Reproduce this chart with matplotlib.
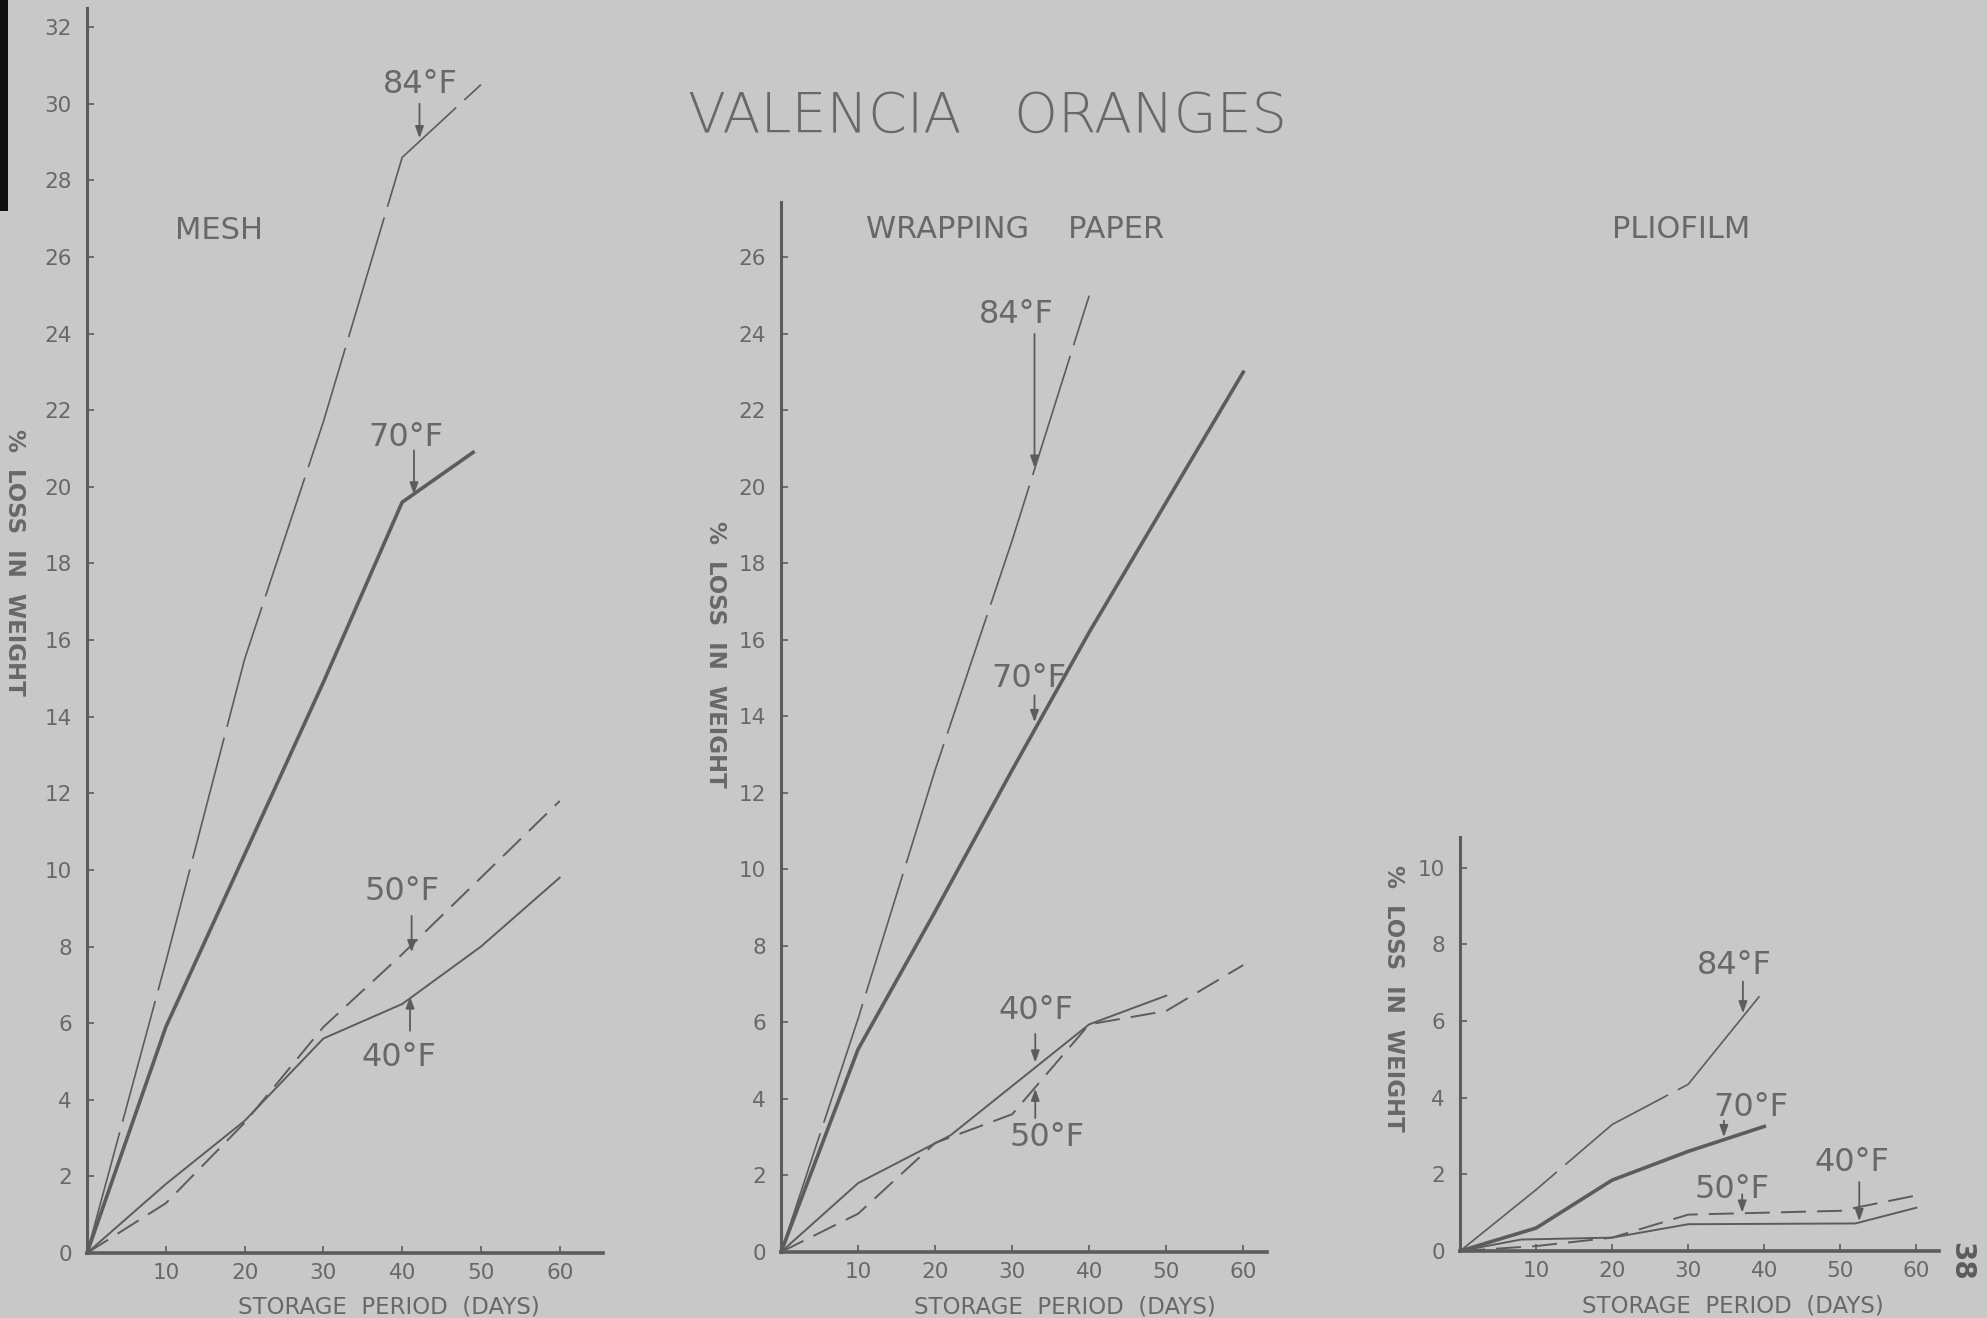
import matplotlib
matplotlib.use("Agg")
import matplotlib.pyplot as plt
from matplotlib.patches import Rectangle

# ---- data (days, % loss in weight) ----
# MESH
mesh_84_days = [0, 10, 20, 30, 40, 50]
mesh_84 = [0, 7.6, 15.5, 21.7, 28.6, 30.5]
mesh_70_days = [0, 10, 20, 30, 40, 49]
mesh_70 = [0, 5.9, 10.4, 14.9, 19.6, 20.9]
mesh_50_days = [0, 10, 20, 30, 40, 50, 60]
mesh_50 = [0, 1.3, 3.4, 5.9, 7.8, 9.8, 11.8]
mesh_40_days = [0, 10, 20, 30, 40, 50, 60]
mesh_40 = [0, 1.8, 3.45, 5.6, 6.5, 8.0, 9.8]

# WRAPPING PAPER
wrap_84_days = [0, 10, 20, 30, 40]
wrap_84 = [0, 6.1, 12.6, 18.6, 25.0]
wrap_70_days = [0, 10, 20, 30, 40, 50, 60]
wrap_70 = [0, 5.3, 8.9, 12.6, 16.2, 19.6, 23.0]
wrap_50_days = [0, 10, 20, 30, 40, 50, 60]
wrap_50 = [0, 1.0, 2.85, 3.6, 5.95, 6.3, 7.5]
wrap_40_days = [0, 10, 22, 40, 50]
wrap_40 = [0, 1.8, 3.05, 5.95, 6.7]

# PLIOFILM
plio_84_days = [0, 10, 20, 30, 40]
plio_84 = [0, 1.6, 3.3, 4.35, 6.8]
plio_70_days = [0, 10, 20, 30, 40]
plio_70 = [0, 0.6, 1.85, 2.6, 3.25]
plio_50_days = [0, 10, 20, 30, 40, 50, 60]
plio_50 = [0, 0.13, 0.35, 0.95, 1.0, 1.05, 1.45]
plio_40_days = [0, 8, 20, 30, 52, 60]
plio_40 = [0, 0.3, 0.35, 0.7, 0.72, 1.13]

# label text, label centre, arrow (x, y_from, y_to)
mesh_notes = [
    ("84°F", (42.3, 30.5), (42.2, 30.0, 29.1)),
    ("70°F", (40.5, 21.3), (41.5, 20.95, 19.8)),
    ("50°F", (40.0, 9.45), (41.2, 8.8, 7.85)),
    ("40°F", (39.6, 5.1), (41.0, 5.8, 6.7)),
]
wrap_notes = [
    ("84°F", (30.5, 24.5), (32.9, 24.0, 20.5)),
    ("70°F", (32.2, 15.0), (32.9, 14.55, 13.85)),
    ("40°F", (33.1, 6.3), (33.0, 5.7, 4.95)),
    ("50°F", (34.5, 3.0), (33.0, 3.5, 4.27)),
]
plio_notes = [
    ("84°F", (36.1, 7.45), (37.2, 7.03, 6.2)),
    ("70°F", (38.2, 3.75), (34.7, 3.4, 2.97)),
    ("50°F", (35.7, 1.6), (37.1, 1.48, 1.0)),
    ("40°F", (51.5, 2.3), (52.5, 1.8, 0.78)),
]

bg = "#c8c8c8"
ink = "#5c5c5c"
txt = "#686868"

plt.rcParams["lines.scale_dashes"] = False
plt.rcParams["font.family"] = ["DejaVu Sans"]

fig = plt.figure(figsize=(19.87, 13.18), dpi=100, facecolor=bg)


def make_panel(rect, ymax, xmax, yticks, xlab_pos, ylab_pos):
    ax = fig.add_axes(rect)
    ax.set_facecolor("none")
    ax.set_xlim(0, xmax)
    ax.set_ylim(0, ymax)
    for s in ["top", "right"]:
        ax.spines[s].set_visible(False)
    ax.spines["left"].set_linewidth(2.2)
    ax.spines["bottom"].set_linewidth(2.6)
    ax.spines["left"].set_color(ink)
    ax.spines["bottom"].set_color(ink)
    ax.set_yticks(yticks)
    ax.set_xticks([10, 20, 30, 40, 50, 60])
    ax.tick_params(direction="in", length=5, width=1.2, color=ink,
                   labelcolor=txt)
    ax.tick_params(axis="y", pad=11, labelsize=15.5)
    ax.tick_params(axis="x", pad=7, labelsize=15.5)
    ax.set_xlabel("STORAGE  PERIOD  (DAYS)", fontsize=16.5, color=txt)
    ax.xaxis.set_label_coords(*xlab_pos)
    ax.set_ylabel("%  LOSS  IN  WEIGHT", fontsize=16.5, color=txt,
                  fontweight="bold", rotation=-90, va="center")
    ax.yaxis.set_label_coords(*ylab_pos)
    return ax


def draw_lines(ax, d84, v84, d70, v70, d50, v50, d40, v40):
    ax.plot(d84, v84, color=ink, lw=1.2, dashes=(90, 8), clip_on=False)
    ax.plot(d70, v70, color=ink, lw=2.6, clip_on=False)
    ax.plot(d50, v50, color=ink, lw=1.4, dashes=(18, 8), clip_on=False)
    ax.plot(d40, v40, color=ink, lw=1.4, clip_on=False)


def add_notes(ax, notes):
    for label, (tx, ty), (ax_x, y0, y1) in notes:
        ax.text(tx, ty, label, fontsize=23, color=txt, ha="center", va="center")
        ax.annotate("", xy=(ax_x, y1), xytext=(ax_x, y0),
                    arrowprops=dict(arrowstyle="-|>,head_length=0.5,head_width=0.18",
                                    color=ink, lw=1.3, shrinkA=0, shrinkB=0,
                                    mutation_scale=14))


ax1 = make_panel([0.0438, 0.0493, 0.2597, 0.9446], 32.5, 65.5,
                 list(range(0, 33, 2)), (0.585, -0.034), (-0.14, 0.555))
draw_lines(ax1, mesh_84_days, mesh_84, mesh_70_days, mesh_70,
           mesh_50_days, mesh_50, mesh_40_days, mesh_40)
add_notes(ax1, mesh_notes)

ax2 = make_panel([0.3931, 0.0501, 0.2446, 0.7967], 27.45, 63.1,
                 list(range(0, 27, 2)), (0.583, -0.041), (-0.134, 0.569))
draw_lines(ax2, wrap_84_days, wrap_84, wrap_70_days, wrap_70,
           wrap_50_days, wrap_50, wrap_40_days, wrap_40)
add_notes(ax2, wrap_notes)

ax3 = make_panel([0.7348, 0.0508, 0.2411, 0.3141], 10.8, 63.0,
                 list(range(0, 11, 2)), (0.57, -0.105), (-0.138, 0.611))
draw_lines(ax3, plio_84_days, plio_84, plio_70_days, plio_70,
           plio_50_days, plio_50, plio_40_days, plio_40)
add_notes(ax3, plio_notes)

# titles
fig.text(0.497, 0.911, "VALENCIA   ORANGES", fontsize=40, color=txt,
         ha="center", va="center", fontweight="light")
fig.text(0.110, 0.825, "MESH", fontsize=22, color=txt, ha="center", va="center")
fig.text(0.511, 0.826, "WRAPPING    PAPER", fontsize=22, color=txt,
         ha="center", va="center")
fig.text(0.846, 0.826, "PLIOFILM", fontsize=22, color=txt,
         ha="center", va="center")

# page number and scanner edge
fig.text(0.987, 0.043, "38", fontsize=20, color=ink, rotation=-90,
         ha="center", va="center", fontweight="bold")
fig.add_artist(Rectangle((0, 0.84), 0.004, 0.16, transform=fig.transFigure,
                         color="#111111", lw=0))

fig.savefig("out.png", dpi=100, facecolor=bg)
